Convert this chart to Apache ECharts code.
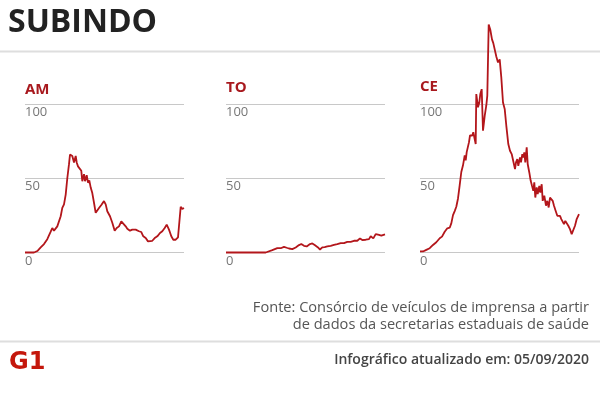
<!DOCTYPE html>
<html>
<head>
<meta charset="utf-8">
<script src="https://cdn.jsdelivr.net/npm/echarts@6/dist/echarts.min.js"></script>
<style>
  html, body { margin: 0; padding: 0; background: #fff; }
  #chart { width: 600px; height: 398px; }
</style>
</head>
<body>
<div id="chart"></div>
<script>
// estados e séries (dia, média de casos)
const states = ['AM', 'TO', 'CE']
const yTicks = [0, 50, 100]

const amData = [[0,0],[9,0],[12.3,1],[15.7,3.4],[19,5.7],[22.3,9],[25.7,14],[27.3,16.5],[29,14.7],[30.7,15.4],[32.3,17.6],[34,18.8],[35.7,24.4],[37.3,30],[39,32.4],[40.7,39],[42.3,50],[44,59.5],[45,66],[47.3,65],[49,60.6],[50.7,65],[51.7,60.6],[53,58],[55,57],[56.3,55],[57.3,48],[59,52.7],[60,48],[61.7,52],[63,47],[64.3,48.6],[65.7,43.7],[67.3,40],[69,33.5],[70.7,26.7],[72,26.5],[74,30],[76.3,32],[79,34.6],[80.7,32.4],[82.3,27.8],[85,24.4],[87.3,20],[89.7,14.7],[91.7,16.5],[94,17.6],[96.3,21],[98.3,20],[100.7,17.6],[102.3,16],[105,14.7],[107.3,15.4],[110.7,15.4],[114,14.3],[116.3,13.8],[118.3,10.9],[120.7,9.7],[123,7.5],[125,8.6],[127.3,7.9],[129.7,9.7],[132.3,10.9],[135,13.1],[137.3,14.3],[139.7,16.5],[141.7,18.8],[144,15.4],[146.3,10.9],[148.3,8.6],[150.7,8.6],[153,10.2],[155,9.7],[155.7,30.8],[157.3,29.4],[159,30]]

const toData = [[0,0],[39.7,0],[41.3,1.1],[46.3,1.6],[48,2.3],[51.3,3],[53,3.4],[55.3,3],[58,3.8],[60.7,3.2],[63,2.7],[66.3,2.3],[69.7,3.4],[73,5],[75.3,5.7],[78,4.5],[80.7,4.1],[84,5.7],[86.3,6.1],[88.7,5],[92,3.4],[94,2],[96.3,3.4],[98.7,3.6],[101.3,4.1],[104.7,4.5],[108,5.2],[111.3,5.7],[114.7,6.3],[118,6.3],[121.3,7.2],[124.7,7.2],[128,7.9],[129.7,9],[131.3,7.9],[134,9.5],[136.3,8.4],[139.7,8.6],[143,9],[144.7,10.9],[147.3,9.5],[149.7,12.4],[151.3,13.1],[153,11.8],[155.3,11.3],[157.3,12.2],[159,12.2]]

const ceData = [[0,0.7],[3,0.7],[6.3,1.8],[9.7,2.9],[13,5.1],[16.3,6.9],[19.7,9.6],[22,10.7],[24.7,14],[27.3,16.3],[29.7,16.7],[31.3,19.6],[33,25.2],[34.7,27.9],[36.3,30.8],[38,36.4],[39.7,45.3],[41.3,54.2],[43,58.7],[44.7,65.4],[45.7,62],[46.7,67.6],[48,68.8],[49,74.3],[50,78.8],[51.3,80],[52.3,78.8],[53.3,81],[54.7,80],[55.7,73],[56.3,106.7],[58,97.8],[59.3,101],[60.3,106.7],[61.7,110],[63,82],[64.7,92],[66.3,99],[67.3,105.6],[68.7,153.6],[70.3,150],[72,143.5],[73.3,141],[74.7,142],[76.3,132],[78,128],[79.7,130],[81.3,117.9],[83,101],[84.7,96.7],[86.3,85.5],[88.3,73],[90,68.5],[91.7,66.3],[93.3,65.2],[95,56.2],[96,60.7],[97.3,62.9],[98.3,58.4],[100,64],[101,60.7],[102.3,66.3],[103.3,64],[104.3,67.4],[105.3,60.7],[106.7,70.8],[107.7,59.6],[109.3,53.9],[110.7,48.3],[112,44.9],[113.3,41.6],[114.3,47.2],[115.3,37],[116.7,43.8],[117.7,39.3],[119.3,44.9],[120.3,40.4],[121.7,46],[122.7,34.8],[124.3,38.2],[126,31.5],[127.3,34.8],[128.7,30.3],[130,37],[131.7,38.2],[132.7,34.8],[134,31.5],[135.7,28],[137.3,24.7],[138.7,23.6],[140,24.7],[141.3,22.5],[142.7,23.6],[144,19.1],[145.3,21.3],[146.7,22.5],[148.3,18],[150,15.7],[151.7,12.4],[153.3,11.2],[155,18],[156.7,22.5],[159,25.8]]

const seriesData = [amData, toData, ceData]

const FONT = '"Open Sans", "Noto Sans", sans-serif'
const RED = '#b3161b'
const gridLefts = [25, 226, 420]
const labelY = [90, 88, 87]

const chart = echarts.init(document.getElementById('chart'))

const grids = gridLefts.map(left => ({ left: left, width: 159, top: 104, height: 148.5 }))

const xAxes = gridLefts.map((_, i) => ({
  gridIndex: i, type: 'value', min: 0, max: 159, show: false
}))

const yAxes = gridLefts.map((_, i) => ({
  gridIndex: i,
  type: 'value',
  min: yTicks[0],
  max: yTicks[yTicks.length - 1],
  interval: 50,
  axisLine: { show: false },
  axisTick: { show: false },
  splitLine: { lineStyle: { color: '#c8c8c8', width: 1 } },
  axisLabel: {
    inside: true,
    margin: 0,
    align: 'left',
    verticalAlign: 'top',
    padding: [2, 0, 0, 0],
    color: '#777',
    fontSize: 13,
    fontFamily: FONT
  }
}))

const series = seriesData.map((d, i) => ({
  type: 'line',
  xAxisIndex: i,
  yAxisIndex: i,
  data: d,
  clip: false,
  showSymbol: false,
  silent: true,
  lineStyle: { color: RED, width: 1.8 }
}))

const graphic = [
  { type: 'text', x: 8, y: 23, style: { text: 'SUBINDO', fill: '#222', fontSize: 32, fontWeight: 'bold', fontFamily: FONT, verticalAlign: 'middle' } },
  { type: 'line', shape: { x1: 0, y1: 51.5, x2: 600, y2: 51.5 }, style: { stroke: '#dedede', lineWidth: 2 } },
  { type: 'line', shape: { x1: 0, y1: 341.5, x2: 600, y2: 341.5 }, style: { stroke: '#dedede', lineWidth: 2 } },
  { type: 'text', x: 589, y: 308, style: { text: 'Fonte: Consórcio de veículos de imprensa a partir', fill: '#555', fontSize: 14.6, fontFamily: FONT, align: 'right', verticalAlign: 'middle' } },
  { type: 'text', x: 589, y: 325, style: { text: 'de dados da secretarias estaduais de saúde', fill: '#555', fontSize: 14.6, fontFamily: FONT, align: 'right', verticalAlign: 'middle' } },
  { type: 'text', x: 589, y: 360, style: { text: 'Infográfico atualizado em: 05/09/2020', fill: '#444', fontSize: 14, fontWeight: 600, fontFamily: FONT, align: 'right', verticalAlign: 'middle' } },
  { type: 'text', x: 9, y: 363, style: { text: 'G1', fill: '#c4170c', fontSize: 24, fontWeight: 900, fontFamily: '"DejaVu Sans", sans-serif', verticalAlign: 'middle' } }
].concat(states.map((s, i) => ({
  type: 'text', x: gridLefts[i], y: labelY[i],
  style: { text: s, fill: '#a8191e', fontSize: 15, fontWeight: 'bold', fontFamily: FONT, verticalAlign: 'middle' }
})))

chart.setOption({
  animation: false,
  grid: grids,
  xAxis: xAxes,
  yAxis: yAxes,
  series: series,
  graphic: graphic
})
</script>
</body>
</html>
